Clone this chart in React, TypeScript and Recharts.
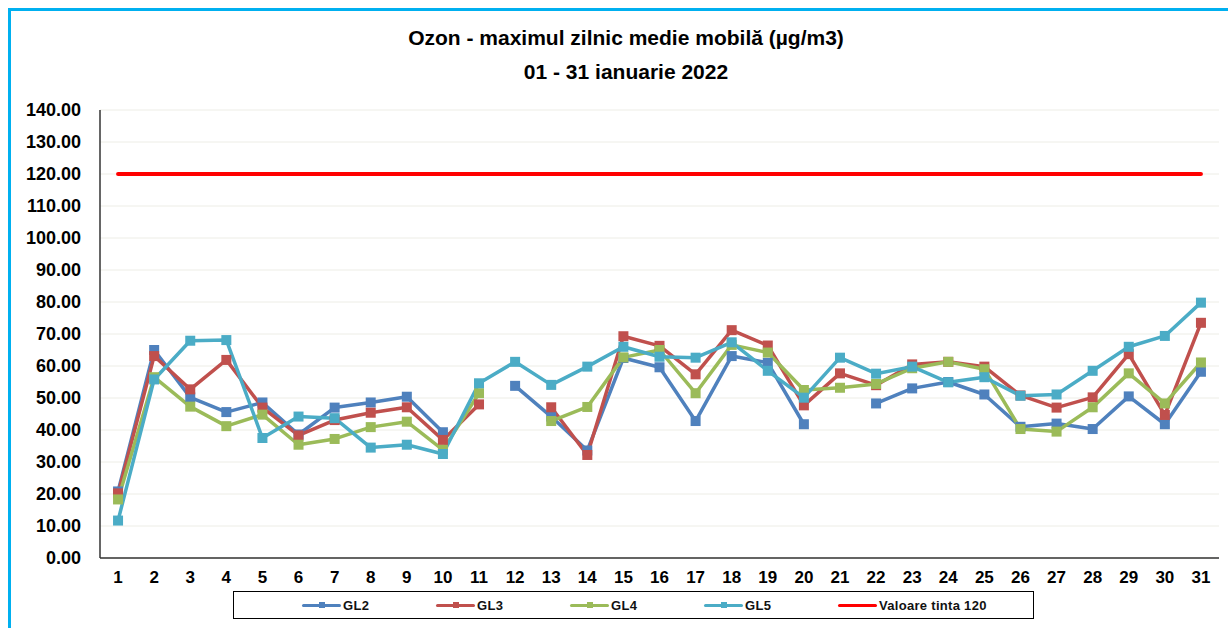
import React from 'react';
import { LineChart, Line, XAxis, YAxis, CartesianGrid } from 'recharts';

const days = [1, 2, 3, 4, 5, 6, 7, 8, 9, 10, 11, 12, 13, 14, 15, 16, 17, 18, 19, 20, 21, 22, 23, 24, 25, 26, 27, 28, 29, 30, 31];
const gl2 = [20.8, 65.0, 50.2, 45.6, 48.6, 38.6, 47.0, 48.6, 50.4, 39.3, null, 53.8, 44.2, 33.6, 62.5, 59.6, 42.8, 63.1, 61.0, 41.8, null, 48.3, 53.0, 55.0, 51.1, 41.0, 42.0, 40.3, 50.5, 41.8, 58.2];
const gl3 = [20.2, 63.1, 52.7, 61.9, 47.0, 38.3, 43.1, 45.4, 47.1, 36.9, 48.0, null, 47.1, 32.2, 69.3, 66.3, 57.4, 71.2, 66.4, 47.7, 57.7, 54.0, 60.5, 61.3, 59.8, 50.8, 47.0, 50.2, 63.7, 44.7, 73.5];
const gl4 = [18.3, 56.5, 47.3, 41.2, 44.8, 35.4, 37.2, 40.9, 42.6, 33.8, 51.5, null, 42.8, 47.2, 62.7, 65.0, 51.5, 66.6, 64.2, 52.5, 53.2, 54.4, 59.3, 61.3, 59.0, 40.3, 39.5, 47.1, 57.7, 48.3, 61.1];
const gl5 = [11.7, 55.8, 67.9, 68.1, 37.5, 44.2, 43.7, 34.5, 35.4, 32.5, 54.6, 61.3, 54.1, 59.8, 66.0, 62.9, 62.6, 67.4, 58.5, 50.1, 62.6, 57.6, 59.8, 54.9, 56.5, 50.7, 51.1, 58.5, 66.0, 69.4, 79.8];
const target = [120, 120, 120, 120, 120, 120, 120, 120, 120, 120, 120, 120, 120, 120, 120, 120, 120, 120, 120, 120, 120, 120, 120, 120, 120, 120, 120, 120, 120, 120, 120];
const yTicks = [0, 10, 20, 30, 40, 50, 60, 70, 80, 90, 100, 110, 120, 130, 140];

const titleLine1 = 'Ozon - maximul zilnic medie mobilă (µg/m3)';
const titleLine2 = '01 - 31 ianuarie 2022';

const series = [
  { key: 'gl2', name: 'GL2', color: '#4F81BD', marker: true },
  { key: 'gl3', name: 'GL3', color: '#C0504D', marker: true },
  { key: 'gl4', name: 'GL4', color: '#9BBB59', marker: true },
  { key: 'gl5', name: 'GL5', color: '#4BACC6', marker: true },
  { key: 'target', name: 'Valoare tinta 120', color: '#FF0000', marker: false },
];

const data = days.map((d, i) => ({
  day: d,
  gl2: gl2[i],
  gl3: gl3[i],
  gl4: gl4[i],
  gl5: gl5[i],
  target: target[i],
}));

const FONT = '"Liberation Sans", Arial, sans-serif';

const makeDot = (color: string) => (props: any) => {
  const { cx, cy, index } = props;
  if (cx == null || cy == null || props.value == null) return <g key={`d-${index}`} />;
  return <rect key={`d-${index}`} x={cx - 5} y={cy - 5} width={10} height={10} fill={color} />;
};

export default function App() {
  return (
    <div style={{ position: 'fixed', left: 0, top: 0, width: 1228, height: 628, overflow: 'hidden', background: '#fff', fontFamily: FONT }}>
      <div style={{ position: 'absolute', left: 8, top: 8, width: 1260, height: 660, borderLeft: '3px solid #00B0F0', borderTop: '3px solid #00B0F0' }} />
      <div style={{ position: 'absolute', left: 276, width: 700, top: 26, lineHeight: '24px', textAlign: 'center', fontSize: 21, fontWeight: 'bold', color: '#000' }}>{titleLine1}</div>
      <div style={{ position: 'absolute', left: 276, width: 700, top: 60, lineHeight: '24px', textAlign: 'center', fontSize: 21, fontWeight: 'bold', color: '#000' }}>{titleLine2}</div>
      <div style={{ position: 'absolute', left: 0, top: 0 }}>
        <LineChart width={1228} height={628} data={data} margin={{ top: 110, right: 9, bottom: 40, left: 0 }}>
          <CartesianGrid horizontal={true} vertical={false} stroke="#EDEDE6" strokeWidth={1} />
          <XAxis
            dataKey="day"
            type="number"
            domain={[0.5, 31.5]}
            ticks={days}
            interval={0}
            height={30}
            axisLine={{ stroke: '#333', strokeWidth: 1.5 }}
            tickLine={false}
            tickSize={6}
            tickMargin={7}
            tick={{ fontSize: 17, fontWeight: 'bold', fill: '#000', fontFamily: FONT }}
          />
          <YAxis
            type="number"
            domain={[0, 140]}
            ticks={yTicks}
            interval={0}
            width={100}
            axisLine={{ stroke: '#333', strokeWidth: 1.5 }}
            tickLine={false}
            tickSize={6}
            tickMargin={13}
            tickFormatter={(v: number) => v.toFixed(2)}
            tick={{ fontSize: 18, fontWeight: 'bold', fill: '#000', fontFamily: FONT }}
          />
          {series.map((s) => (
            <Line
              key={s.key}
              type="linear"
              dataKey={s.key}
              name={s.name}
              stroke={s.color}
              strokeWidth={s.marker ? 3.5 : 4}
              strokeLinecap="round"
              strokeLinejoin="round"
              dot={s.marker ? makeDot(s.color) : false}
              activeDot={false}
              connectNulls={false}
              isAnimationActive={false}
            />
          ))}
        </LineChart>
      </div>
      <div style={{ position: 'absolute', left: 233, top: 591, width: 801, height: 28, border: '1px solid #000', boxSizing: 'border-box' }}>
        {series.map((s, i) => (
          <div key={s.key} style={{ position: 'absolute', left: 68 + i * 134, top: 0, height: 26, display: 'flex', alignItems: 'center' }}>
            <div style={{ position: 'relative', width: 39, height: 3, background: s.color, borderRadius: 1.5 }}>
              {s.marker && <div style={{ position: 'absolute', left: 17, top: -1.5, width: 6, height: 6, background: s.color }} />}
            </div>
            <span style={{ marginLeft: 2, fontSize: 13, fontWeight: 'bold', color: '#111', fontFamily: FONT, letterSpacing: 0.3 }}>{s.name}</span>
          </div>
        ))}
      </div>
    </div>
  );
}
